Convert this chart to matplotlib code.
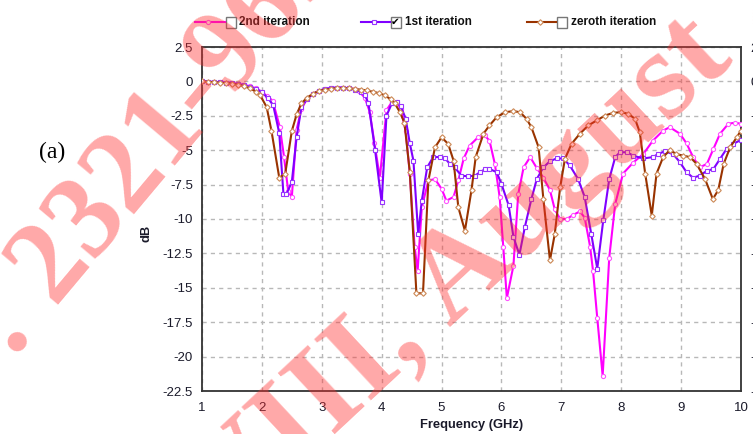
import numpy as np
import matplotlib
matplotlib.use("Agg")
import matplotlib.pyplot as plt
from matplotlib.lines import Line2D
from matplotlib.patches import Rectangle
from matplotlib.ticker import FuncFormatter

plt.rcParams['axes.unicode_minus'] = False
plt.rcParams['font.family'] = ['Liberation Sans', 'DejaVu Sans']

# ---------------- data ----------------
freq_2nd = [1.0, 1.1, 1.2, 1.3, 1.4, 1.5, 1.6, 1.7, 1.8, 1.9, 2.0, 2.08, 2.18, 2.3,
            2.37, 2.44, 2.5, 2.58, 2.66, 2.75, 2.85, 2.95, 3.05, 3.15, 3.25, 3.35,
            3.45, 3.55, 3.62, 3.72, 3.8, 3.88, 3.97, 4.08, 4.17, 4.25, 4.32, 4.4,
            4.47, 4.55, 4.6, 4.67, 4.78, 4.89, 5.0, 5.08, 5.2, 5.28, 5.37, 5.47,
            5.61, 5.72, 5.8, 5.89, 5.97, 6.03, 6.09, 6.2, 6.28, 6.37, 6.48, 6.59,
            6.7, 6.81, 6.89, 6.98, 7.09, 7.2, 7.31, 7.39, 7.48, 7.53, 7.6, 7.69,
            7.8, 7.9, 8.03, 8.2, 8.37, 8.53, 8.7, 8.81, 8.98, 9.09, 9.2, 9.31,
            9.43, 9.54, 9.65, 9.79, 9.9, 10.0]
db_2nd = [0.0, -0.02, -0.05, -0.05, -0.08, -0.12, -0.18, -0.25, -0.35, -0.5, -0.75,
          -1.05, -1.4, -3.33, -5.5, -8.0, -8.4, -3.5, -2.0, -1.3, -0.9, -0.7, -0.55,
          -0.5, -0.45, -0.45, -0.5, -0.55, -0.7, -1.2, -2.2, -4.5, -7.0, -2.1, -1.5,
          -1.5, -2.0, -3.6, -6.7, -12.0, -13.8, -9.15, -7.2, -7.1, -7.8, -8.67, -8.4,
          -7.2, -5.6, -4.66, -4.06, -3.93, -4.3, -6.0, -8.4, -12.0, -15.75, -13.4,
          -8.2, -6.25, -5.5, -6.3, -7.0, -7.9, -9.3, -10.0, -10.0, -9.7, -9.45, -9.9,
          -12.0, -13.8, -17.2, -21.4, -12.8, -8.9, -6.7, -5.9, -5.27, -4.3, -3.57,
          -3.33, -3.8, -4.5, -5.5, -6.25, -6.0, -4.9, -3.8, -3.08, -3.0, -3.08]

freq_1st = [1.0, 1.1, 1.2, 1.3, 1.4, 1.5, 1.6, 1.7, 1.8, 1.9, 2.0, 2.1, 2.19, 2.29,
            2.36, 2.41, 2.5, 2.58, 2.66, 2.75, 2.85, 2.95, 3.05, 3.15, 3.25, 3.35,
            3.45, 3.55, 3.65, 3.72, 3.78, 3.89, 4.0, 4.08, 4.17, 4.25, 4.32, 4.4,
            4.47, 4.53, 4.61, 4.67, 4.76, 4.86, 4.97, 5.06, 5.14, 5.22, 5.33, 5.44,
            5.56, 5.64, 5.72, 5.8, 5.92, 6.0, 6.12, 6.2, 6.3, 6.39, 6.5, 6.59, 6.7,
            6.81, 6.92, 7.03, 7.14, 7.28, 7.39, 7.5, 7.6, 7.7, 7.8, 7.9, 7.98, 8.1,
            8.2, 8.37, 8.53, 8.62, 8.73, 8.87, 8.98, 9.09, 9.2, 9.31, 9.43, 9.54,
            9.65, 9.76, 9.87, 10.0]
db_1st = [0.0, -0.02, -0.05, -0.07, -0.1, -0.15, -0.2, -0.28, -0.4, -0.55, -0.8,
          -1.2, -1.75, -3.76, -8.2, -8.2, -7.3, -4.06, -1.87, -1.3, -0.9, -0.7, -0.55,
          -0.48, -0.45, -0.45, -0.5, -0.6, -0.75, -1.0, -1.6, -5.0, -8.8, -2.5, -1.6,
          -1.5, -1.8, -2.7, -4.5, -5.75, -11.1, -8.67, -6.25, -5.5, -5.5, -5.6, -6.0,
          -6.25, -6.85, -6.9, -6.85, -6.6, -6.4, -6.36, -6.6, -7.45, -9.0, -11.3,
          -12.6, -10.6, -8.55, -7.1, -6.25, -5.8, -5.6, -5.6, -6.1, -7.1, -8.4,
          -11.1, -13.6, -10.1, -7.1, -5.5, -5.15, -5.15, -5.4, -5.6, -5.5, -5.27,
          -5.07, -5.3, -5.87, -6.6, -7.0, -6.85, -6.5, -6.36, -5.63, -4.9, -4.54,
          -4.25]

freq_0th = [1.0, 1.1, 1.2, 1.3, 1.4, 1.5, 1.6, 1.7, 1.8, 1.9, 1.97, 2.08, 2.16, 2.29,
            2.39, 2.5, 2.58, 2.66, 2.75, 2.85, 2.95, 3.05, 3.15, 3.25, 3.35, 3.45,
            3.55, 3.65, 3.75, 3.85, 3.95, 4.05, 4.15, 4.22, 4.3, 4.38, 4.47, 4.58,
            4.69, 4.78, 4.89, 5.0, 5.11, 5.2, 5.28, 5.39, 5.5, 5.57, 5.7, 5.8, 5.92,
            6.06, 6.2, 6.31, 6.42, 6.5, 6.62, 6.7, 6.81, 6.89, 6.98, 7.06, 7.17,
            7.31, 7.45, 7.59, 7.73, 7.87, 8.0, 8.12, 8.23, 8.31, 8.4, 8.51, 8.59,
            8.7, 8.81, 8.92, 9.03, 9.15, 9.26, 9.4, 9.53, 9.62, 9.71, 9.82, 9.93,
            10.0]
db_0th = [0.0, -0.03, -0.06, -0.1, -0.12, -0.18, -0.25, -0.35, -0.5, -0.75, -1.0,
          -1.87, -3.6, -7.0, -6.7, -3.6, -2.4, -1.6, -1.2, -0.9, -0.7, -0.6, -0.55,
          -0.5, -0.5, -0.5, -0.55, -0.6, -0.65, -0.75, -0.85, -1.0, -1.3, -1.6, -2.2,
          -3.0, -6.6, -15.4, -15.4, -7.2, -4.8, -4.06, -4.54, -5.75, -9.15, -10.85,
          -7.9, -5.5, -3.8, -3.2, -2.6, -2.24, -2.16, -2.24, -2.72, -3.33, -4.78,
          -8.55, -13.0, -11.1, -7.7, -5.63, -4.54, -3.8, -3.2, -2.84, -2.48, -2.28,
          -2.24, -2.36, -2.72, -3.7, -6.7, -9.76, -6.7, -5.5, -5.0, -5.27, -5.4,
          -5.5, -6.0, -7.1, -8.55, -7.9, -6.0, -4.78, -4.06, -3.57]

labels = ["2nd iteration", "1st iteration", "zeroth iteration"]
x_ticks = list(range(1, 11))
y_ticks = [2.5, 0, -2.5, -5, -7.5, -10, -12.5, -15, -17.5, -20, -22.5]

# ---------------- styles ----------------
W, H = 753, 434
styles = [
    dict(color='#ff00ff', marker='o', mec='#ff55ff', ms=3.0),
    dict(color='#8000ff', marker='s', mec='#9933ff', ms=3.0),
    dict(color='#993300', marker='D', mec='#cc8855', ms=2.8),
]

fig = plt.figure(figsize=(W / 100, H / 100), dpi=100)
fig.patch.set_facecolor('white')
ax = fig.add_axes([202 / W, 1 - 391 / H, (741 - 202) / W, (391 - 47) / H])

series = [(freq_2nd, db_2nd), (freq_1st, db_1st), (freq_0th, db_0th)]
for (fx, fy), st in zip(series, styles):
    ax.plot(fx, fy, color=st['color'], lw=1.5, marker=st['marker'], ms=st['ms'],
            mfc='white', mec=st['mec'], mew=0.8, zorder=3)

ax.set_xlim(1, 10)
ax.set_ylim(-22.5, 2.5)
ax.set_xticks(x_ticks)
ax.set_yticks(y_ticks)
fmt = FuncFormatter(lambda v, p: f'{v:g}')
ax.xaxis.set_major_formatter(fmt)
ax.yaxis.set_major_formatter(fmt)
ax.grid(True, color='#b8b8b8', linestyle=(0, (3, 3)), lw=1.0)
ax.tick_params(axis='both', length=0, labelsize=9.5, colors='#1a1a2a')
ax.tick_params(axis='y', pad=6.5, labelright=True)
ax.tick_params(axis='x', pad=8)
for sp in ax.spines.values():
    sp.set_color('#333333')
    sp.set_linewidth(1.3)

# axis titles
fig.text(472 / W, 1 - 425 / H, 'Frequency (GHz)', ha='center', va='center',
         fontsize=9.3, fontweight='bold', color='#1a1a2a')
fig.text(147 / W, 1 - 233 / H, 'dB', ha='center', va='center', rotation=90,
         fontsize=9.3, fontweight='bold', color='#1a1a2a')
fig.text(52 / W, 1 - 152 / H, '(a)', ha='center', va='center', fontsize=17,
         family='Liberation Serif', color='black')

# legend drawn across the top
entries = [(195, 225, False, 239), (361, 390, True, 405), (527, 556, False, 571)]
yl = 1 - 22 / H
for (x0, x1, checked, tx), st, lab in zip(entries, styles, labels):
    fig.add_artist(Line2D([x0 / W, x1 / W], [yl, yl], transform=fig.transFigure,
                          color=st['color'], lw=1.5))
    fig.add_artist(Line2D([(x0 + 13) / W], [yl], transform=fig.transFigure,
                          marker=st['marker'], ms=st['ms'], mfc='white',
                          mec=st['mec'], mew=0.8, lw=0))
    fig.add_artist(Rectangle(((x1 + 0.5) / W, (H - 28) / H), 10 / W, 11 / H,
                             transform=fig.transFigure, fc='white', ec='#777777',
                             lw=1.0))
    if checked:
        fig.text((x1 + 5.5) / W, yl, '\u2714', ha='center', va='center',
                 fontsize=7.5, family='DejaVu Sans', color='black')
    fig.text(tx / W, yl, lab, ha='left', va='center', fontsize=8.5,
             fontweight='bold', color='#111111')

# watermark
wm = dict(family='Liberation Serif', fontweight='bold',
          color='#ff3030', alpha=0.42, rotation_mode='anchor', zorder=10)
fig.text(12 / W, 1 - 361 / H, ': 2321-9653;', ha='left', va='baseline',
         rotation=50, fontsize=85, **wm)
fig.text(428 / W, 1 - 346 / H, 'VIII,', ha='right', va='baseline',
         rotation=43, fontsize=92, **wm)
fig.text(450 / W, 1 - 328 / H, 'August 2018', ha='left', va='baseline',
         rotation=43, fontsize=92, **wm)

fig.savefig('out.png', dpi=100, facecolor='white')
